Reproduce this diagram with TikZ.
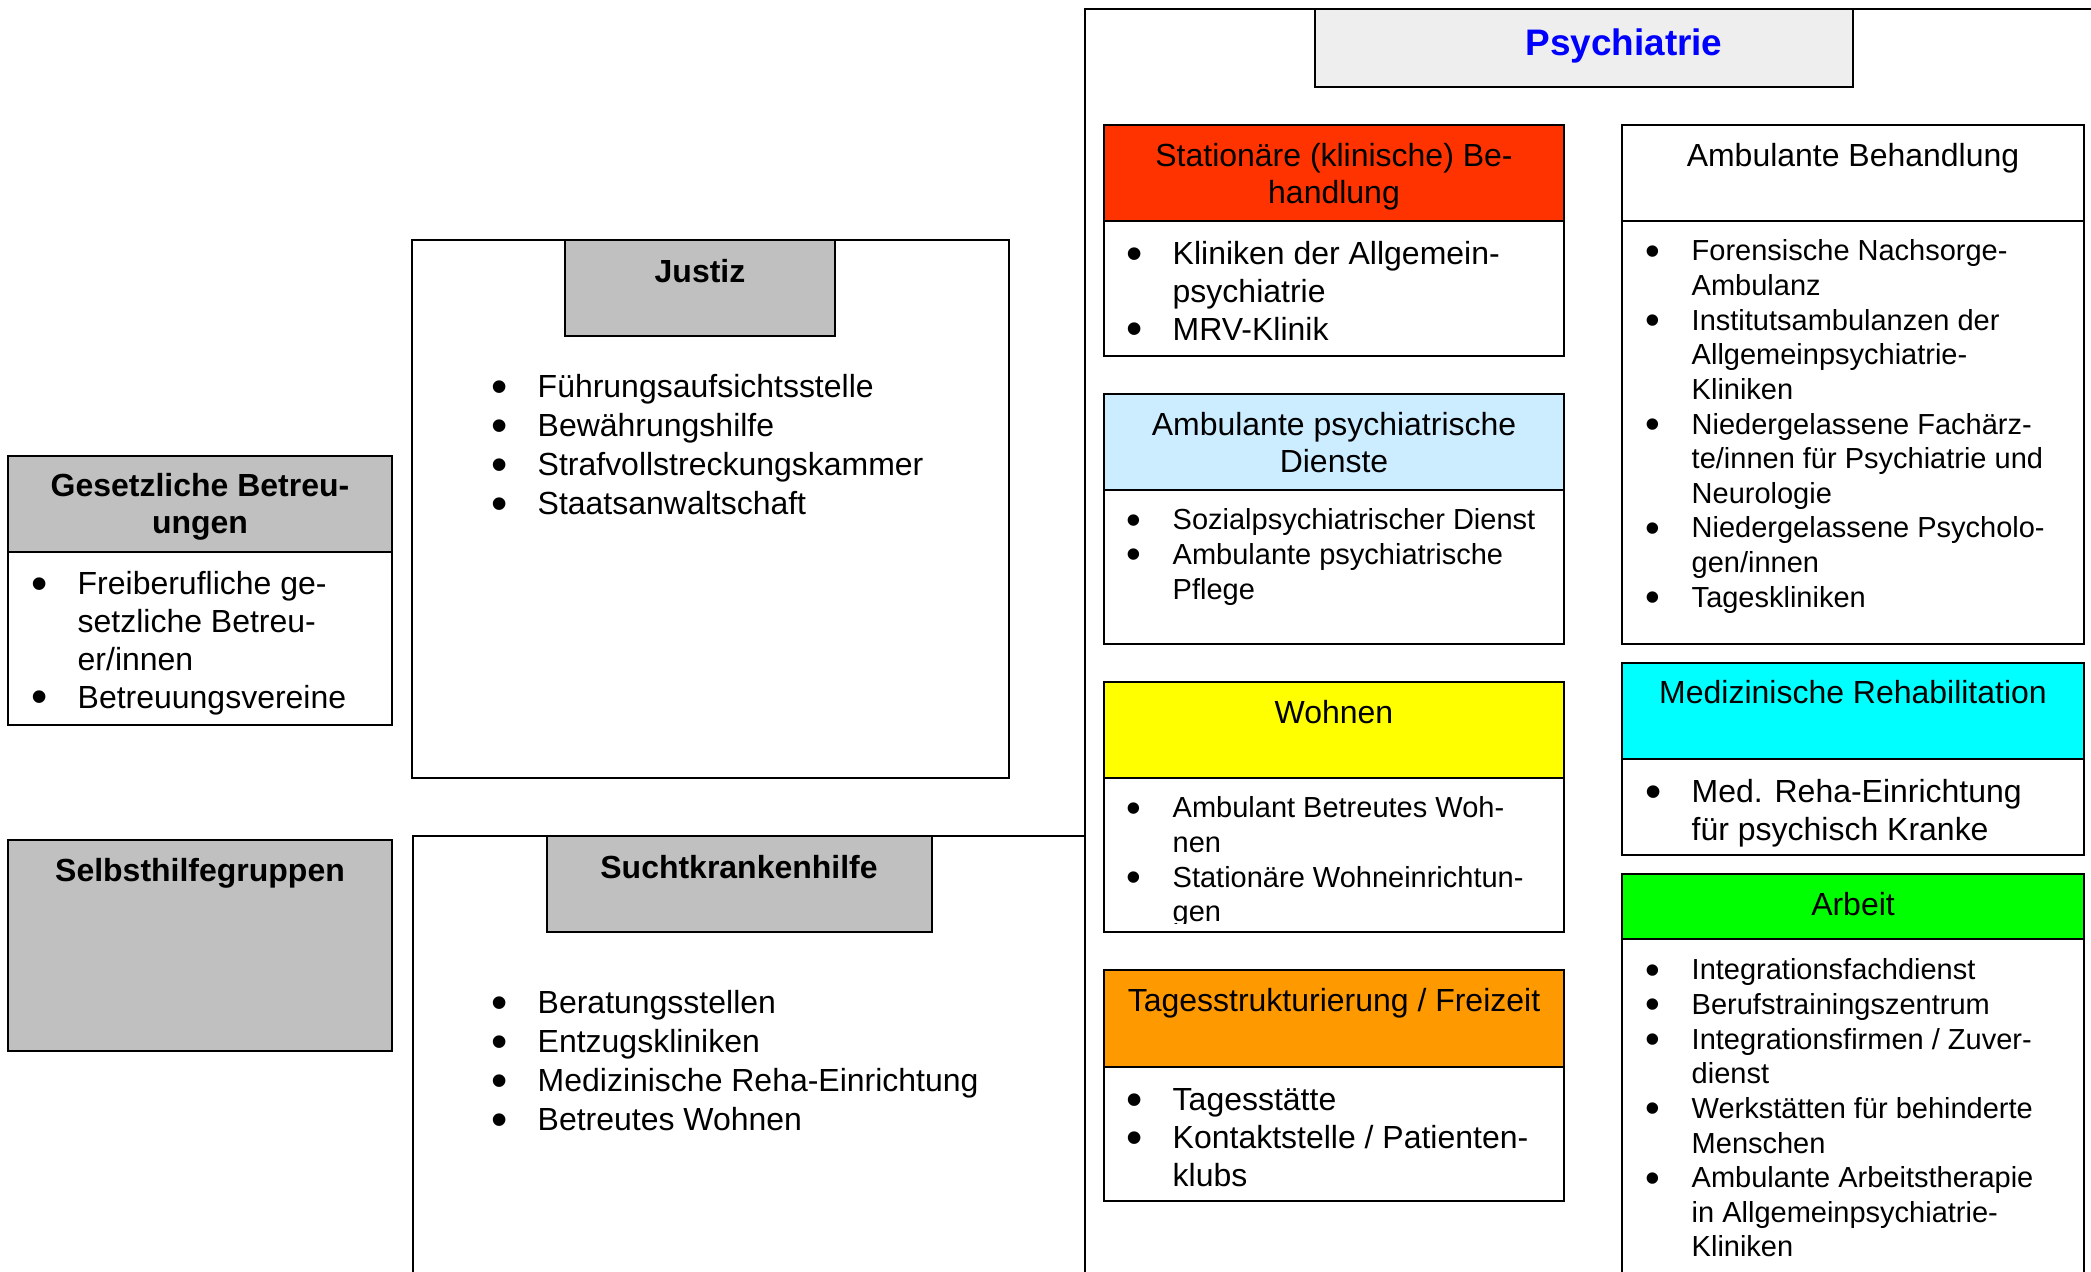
\documentclass[tikz,border=0pt]{standalone}
\usepackage{fontspec}
\setmainfont{Liberation Sans}
\usepackage{xcolor}
\usepackage{graphicx}
\usetikzlibrary{positioning}

\definecolor{statred}{HTML}{FF3300}
\definecolor{ambblue}{HTML}{CCECFF}
\definecolor{wohnyellow}{HTML}{FFFF00}
\definecolor{tagorange}{HTML}{FF9900}
\definecolor{rehacyan}{HTML}{00FFFF}
\definecolor{arbgreen}{HTML}{00FF00}
\definecolor{boxgray}{HTML}{C0C0C0}
\definecolor{psygray}{HTML}{EEEEEE}

\newcommand{\bigtxt}{\fontsize{9.1pt}{10.8pt}\selectfont}
\newcommand{\widetxt}{\fontsize{9.1pt}{11.05pt}\selectfont}
\newcommand{\smalltxt}{\fontsize{8.25pt}{9.85pt}\selectfont}
\newcommand{\hdtxt}{\fontsize{9.1pt}{10.5pt}\selectfont}
\newcommand{\blist}[1]{\begin{tabular}{@{}p{4.6mm}@{}l@{}}#1\end{tabular}}
\newcommand{\bt}{\smash{\raisebox{-0.15em}{\scalebox{1.45}{\textbullet}}}}

\begin{document}
\begin{tikzpicture}[
    x=0.1mm, y=-0.1mm,
    frame/.style={draw, line width=0.5pt},
    hd/.style={anchor=north, inner sep=0pt, align=center, font=\hdtxt, execute at begin node=\strut},
    hdb/.style={hd, font=\hdtxt\bfseries},
    lst/.style={anchor=north west, inner sep=0pt, font=\bigtxt},
    lsts/.style={anchor=north west, inner sep=0pt, font=\smalltxt}
]
    \useasboundingbox[fill=white] (0,0) rectangle (2091,1272);

    % outer frames
    \draw[frame] (2091,9) -- (1085,9) -- (1085,1272);
    \draw[frame] (1085,836) -- (413,836) -- (413,1272);
    \draw[frame, fill=psygray, line width=0.7pt] (1315,9) rectangle (1853,87);
    \node[anchor=base, inner sep=0pt, font=\fontsize{10.5pt}{12pt}\selectfont\bfseries, text=blue] (psy) at (1624,56) {Psychiatrie};

    % Psychiatrie, left column
    \draw[frame, fill=statred] (1104,125) rectangle (1564,221);
    \draw[frame] (1104,221) rectangle (1564,356);
    \node[hd] (stat) at (1334,143) {Stationäre (klinische) Be-\\handlung};
    \node[lst] (statlist) at (1126,237) {\blist{\bt & Kliniken der Allgemein-\\ & psychiatrie\\ \bt & MRV-Klinik}};

    \draw[frame, fill=ambblue] (1104,394) rectangle (1564,490);
    \draw[frame] (1104,490) rectangle (1564,644);
    \node[hd] (dienst) at (1334,412) {Ambulante psychiatrische\\Dienste};
    \node[lsts] (dienstlist) at (1126,505) {\blist{\bt & Sozialpsychiatrischer Dienst\\ \bt & Ambulante psychiatrische\\ & Pflege}};

    \draw[frame, fill=wohnyellow] (1104,682) rectangle (1564,778);
    \draw[frame] (1104,778) rectangle (1564,932);
    \node[hd] (wohn) at (1334,697) {Wohnen};
    \begin{scope}
        \clip (1104,778) rectangle (1564,923);
        \node[lsts] (wohnlist) at (1126,793) {\blist{\bt & Ambulant Betreutes Woh-\\ & nen\\ \bt & Stationäre Wohneinrichtun-\\ & gen}};
    \end{scope}

    \draw[frame, fill=tagorange] (1104,970) rectangle (1564,1067);
    \draw[frame] (1104,1067) rectangle (1564,1201);
    \node[hd] (tag) at (1334,985) {Tagesstrukturierung / Freizeit};
    \node[lst] (taglist) at (1126,1083) {\blist{\bt & Tagesstätte\\ \bt & Kontaktstelle / Patienten-\\ & klubs}};

    % Psychiatrie, right column
    \draw[frame] (1622,125) rectangle (2084,221);
    \draw[frame] (1622,221) rectangle (2084,644);
    \node[hd] (ambbeh) at (1853,140) {Ambulante Behandlung};
    \node[lsts] (ambbehlist) at (1645,236) {\blist{\bt & Forensische Nachsorge-\\ & Ambulanz\\
        \bt & Institutsambulanzen der\\ & Allgemeinpsychiatrie-\\ & Kliniken\\
        \bt & Niedergelassene Fachärz-\\ & te/innen für Psychiatrie und\\ & Neurologie\\
        \bt & Niedergelassene Psycholo-\\ & gen/innen\\
        \bt & Tageskliniken}};

    \draw[frame, fill=rehacyan] (1622,663) rectangle (2084,759);
    \draw[frame] (1622,759) rectangle (2084,855);
    \node[hd] (reha) at (1853,677) {Medizinische Rehabilitation};
    \node[lst] (rehalist) at (1645,775) {\blist{\bt & Med. Reha-Einrichtung\\ & für psychisch Kranke}};

    \draw[frame, fill=arbgreen] (1622,874) rectangle (2084,939);
    \draw[frame] (1622,1272) -- (1622,939) -- (2084,939) -- (2084,1272);
    \node[hd] (arb) at (1853,889) {Arbeit};
    \node[lsts] (arblist) at (1645,955) {\blist{\bt & Integrationsfachdienst\\ \bt & Berufstrainingszentrum\\
        \bt & Integrationsfirmen / Zuver-\\ & dienst\\
        \bt & Werkstätten für behinderte\\ & Menschen\\
        \bt & Ambulante Arbeitstherapie\\ & in Allgemeinpsychiatrie-\\ & Kliniken}};

    % Justiz
    \draw[frame] (412,240) rectangle (1009,778);
    \draw[frame, fill=boxgray] (565,240) rectangle (835,336);
    \node[hdb] (justiz) at (700,256) {Justiz};
    \node[lst, font=\widetxt] (justizlist) at (491,370) {\blist{\bt & Führungsaufsichtsstelle\\ \bt & Bewährungshilfe\\ \bt & Strafvollstreckungskammer\\ \bt & Staatsanwaltschaft}};

    % Gesetzliche Betreuungen
    \draw[frame, fill=boxgray] (8,456) rectangle (392,552);
    \draw[frame] (8,552) rectangle (392,725);
    \node[hdb] (betr) at (200,473) {Gesetzliche Betreu-\\ungen};
    \node[lst] (betrlist) at (31,567) {\blist{\bt & Freiberufliche ge-\\ & setzliche Betreu-\\ & er/innen\\ \bt & Betreuungsvereine}};

    % Selbsthilfegruppen
    \draw[frame, fill=boxgray] (8,840) rectangle (392,1051);
    \node[hdb] (selbst) at (200,855) {Selbsthilfegruppen};

    % Suchtkrankenhilfe
    \draw[frame, fill=boxgray] (547,836) rectangle (932,932);
    \node[hdb] (sucht) at (739,852) {Suchtkrankenhilfe};
    \node[lst, font=\widetxt] (suchtlist) at (491,986) {\blist{\bt & Beratungsstellen\\ \bt & Entzugskliniken\\ \bt & Medizinische Reha-Einrichtung\\ \bt & Betreutes Wohnen}};
\end{tikzpicture}
\end{document}
